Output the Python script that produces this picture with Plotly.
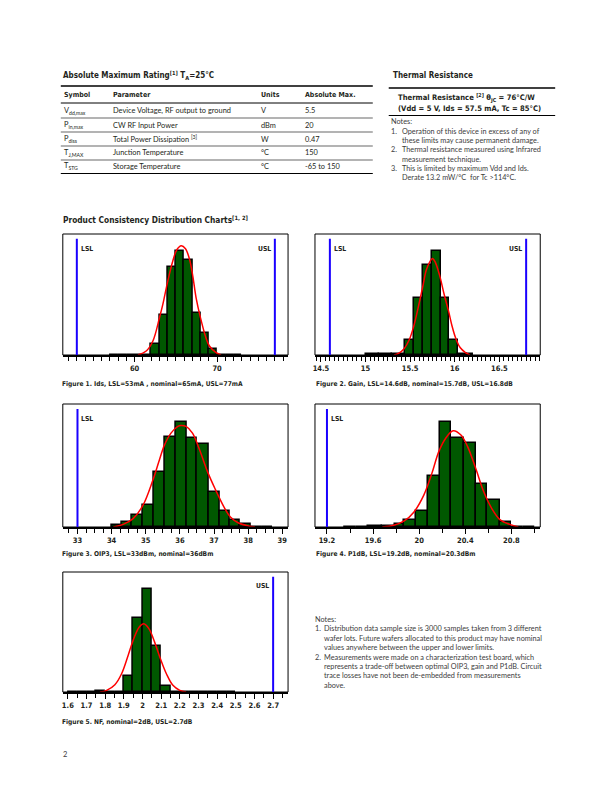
import plotly.graph_objects as go

W, H = 612, 792
COND = "DejaVu Sans Condensed, DejaVu Sans, sans-serif"
BODY = "Lato, Open Sans, sans-serif"
TXT = "#231f20"
NOTE = "#3c3c3c"

# ---------------- data ----------------
# Figure 1: Ids (mA)
ids_edges = [57, 58, 59, 62, 63, 64, 65, 66, 67, 68, 69, 70, 71, 72, 73]
ids_counts = [1.5, 1.5, 0, 34, 119, 262, 312, 285, 125, 65, 19, 1.5, 1.5, 1.5]
ids_fit_x = [60.4, 61.41, 62.22, 63.02, 63.43, 64.03, 64.64, 65.12, 65.65, 66.17, 66.65, 67.06, 67.46, 67.98, 68.67, 69.07, 69.88, 70.48]
ids_fit_y = [0, 12, 42, 112, 152, 222, 282, 315, 327, 318, 287, 235, 170, 112, 50, 27, 7, 0]
ids_ticks = [60, 70]
ids_lsl, ids_usl = 53, 77

# Figure 2: Gain (dB)
gain_edges = [15.0, 15.15, 15.3, 15.44, 15.54, 15.64, 15.74, 15.84, 15.94, 16.04, 16.14, 16.2]
gain_counts = [1.5, 1.5, 2, 45, 168, 267, 307, 168, 43, 1.5, 1.5]
gain_fit_x = [15.32, 15.37, 15.43, 15.49, 15.54, 15.59, 15.64, 15.68, 15.72, 15.75, 15.78, 15.83, 15.88, 15.93, 15.97, 16.01, 16.06, 16.12, 16.17]
gain_fit_y = [0, 5, 18, 45, 85, 140, 200, 250, 275, 285, 275, 235, 180, 130, 85, 50, 22, 7, 0]
gain_ticks = [14.5, 15, 15.5, 16, 16.5]
gain_lsl, gain_usl = 14.6, 16.8

# Figure 3: OIP3 (dBm)
oip3_edges = [34.0, 34.3, 34.6, 34.92, 35.23, 35.55, 35.87, 36.19, 36.51, 36.84, 37.16, 37.47, 37.77, 38.08, 38.4, 38.72]
oip3_counts = [7, 15, 35, 67, 165, 270, 313, 265, 247, 105, 48, 22, 8, 1.5, 1.5]
oip3_fit_x = [34.05, 34.34, 34.63, 34.92, 35.21, 35.4, 35.55, 35.74, 35.94, 36.03, 36.18, 36.37, 36.56, 36.83, 37.05, 37.29, 37.48, 37.72, 38.01, 38.2]
oip3_fit_y = [0, 8, 25, 65, 140, 200, 245, 280, 300, 303, 300, 280, 235, 160, 110, 60, 30, 12, 3, 0]
oip3_ticks = [33, 34, 35, 36, 37, 38, 39]
oip3_lsl = 33

# Figure 4: P1dB (dBm)
p1db_edges = [19.35, 19.45, 19.56, 19.68, 19.79, 19.87, 19.97, 20.08, 20.18, 20.28, 20.39, 20.49, 20.59, 20.70, 20.80, 20.9, 21.0]
p1db_counts = [1.5, 1.5, 3, 3, 10, 22, 48, 153, 313, 265, 250, 127, 82, 15, 1.5, 1.5]
p1db_fit_x = [19.68, 19.78, 19.87, 19.955, 20.04, 20.11, 20.17, 20.23, 20.295, 20.36, 20.42, 20.49, 20.56, 20.63, 20.70, 20.79, 20.86]
p1db_fit_y = [0, 5, 18, 45, 95, 160, 225, 265, 287, 275, 240, 175, 105, 55, 22, 7, 0]
p1db_ticks = [19.2, 19.6, 20, 20.4, 20.8]
p1db_lsl = 19.2

# Figure 5: NF (dB)
nf_edges = [1.6, 1.65, 1.7, 1.75, 1.8, 1.85, 1.9, 1.95, 2.0, 2.05, 2.1, 2.15, 2.2, 2.25, 2.3, 2.35, 2.4, 2.45, 2.5]
nf_counts = [1.5, 1.5, 1.5, 4, 1.5, 1.5, 48, 223, 310, 139, 18, 1.5, 1.5, 1.5, 1.5, 1.5, 1.5, 1.5]
nf_fit_x = [1.772, 1.808, 1.852, 1.888, 1.923, 1.953, 1.982, 2.007, 2.035, 2.065, 2.096, 2.128, 2.163, 2.20, 2.234]
nf_fit_y = [0, 5, 22, 55, 110, 160, 195, 205, 190, 150, 100, 55, 20, 5, 0]
nf_ticks = [1.6, 1.7, 1.8, 1.9, 2, 2.1, 2.2, 2.3, 2.4, 2.5, 2.6, 2.7]
nf_usl = 2.7

captions = [
    "Figure 1. Ids, LSL=53mA , nominal=65mA, USL=77mA",
    "Figure 2. Gain, LSL=14.6dB, nominal=15.7dB, USL=16.8dB",
    "Figure 3. OIP3, LSL=33dBm, nominal=36dBm",
    "Figure 4. P1dB, LSL=19.2dB, nominal=20.3dBm",
    "Figure 5. NF, nominal=2dB, USL=2.7dB",
]

# table data
tbl_header = ["Symbol", "Parameter", "Units", "Absolute Max."]
tbl_symbol = ["V<sub>dd,max</sub>", "P<sub>in,max</sub>", "P<sub>diss</sub>", "T<sub>J,MAX</sub>", "T<sub>STG</sub>"]
tbl_param = ["Device Voltage, RF output to ground", "CW RF Input Power", "Total Power Dissipation <sup>[3]</sup>",
             "Junction Temperature", "Storage Temperature"]
tbl_units = ["V", "dBm", "W", "°C", "°C"]
tbl_max = ["5.5", "20", "0.47", "150", "-65 to 150"]

# ---------------- figure ----------------
fig = go.Figure()

def ax_domain(x0, x1, y0, y1):
    return [x0 / W, x1 / W], [1 - y1 / H, 1 - y0 / H]

charts = [
    dict(edges=ids_edges, counts=ids_counts, fx=ids_fit_x, fy=ids_fit_y, ticks=ids_ticks,
         rng=[51.3, 78.6], minor=1, ymax=362, lsl=ids_lsl, usl=ids_usl, box=(61, 287, 234, 355), cap=(59, 384)),
    dict(edges=gain_edges, counts=gain_counts, fx=gain_fit_x, fy=gain_fit_y, ticks=gain_ticks,
         rng=[14.433, 16.958], minor=0.05, ymax=357, lsl=gain_lsl, usl=gain_usl, box=(314, 540, 234, 355), cap=(314, 384)),
    dict(edges=oip3_edges, counts=oip3_counts, fx=oip3_fit_x, fy=oip3_fit_y, ticks=oip3_ticks,
         rng=[32.57, 39.17], minor=0.25, ymax=367, lsl=oip3_lsl, usl=None, box=(61, 287, 404, 527), cap=(59, 554)),
    dict(edges=p1db_edges, counts=p1db_counts, fx=p1db_fit_x, fy=p1db_fit_y, ticks=p1db_ticks,
         rng=[19.096, 21.05], minor=0.2, ymax=367, lsl=p1db_lsl, usl=None, box=(314, 540, 404, 527), cap=(314, 554)),
    dict(edges=nf_edges, counts=nf_counts, fx=nf_fit_x, fy=nf_fit_y, ticks=nf_ticks,
         rng=[1.573, 2.78], minor=0.05, ymax=361, lsl=None, usl=nf_usl, box=(61, 287, 572, 692), cap=(59, 722)),
]

for i, c in enumerate(charts, start=1):
    suffix = "" if i == 1 else str(i)
    xa, ya = f"x{suffix}", f"y{suffix}"
    e = c["edges"]
    centers = [(a + b) / 2 for a, b in zip(e[:-1], e[1:])]
    widths = [b - a for a, b in zip(e[:-1], e[1:])]
    fig.add_trace(go.Bar(x=centers, y=c["counts"], width=widths, xaxis=xa, yaxis=ya,
                         marker=dict(color="#005800", line=dict(color="black", width=1.5)),
                         showlegend=False, hoverinfo="skip"))
    fig.add_trace(go.Scatter(x=c["fx"], y=c["fy"], mode="lines", xaxis=xa, yaxis=ya,
                             line=dict(color="#ff0000", width=1.5, shape="spline", smoothing=1.0),
                             showlegend=False, hoverinfo="skip"))
    dx, dy = ax_domain(*c["box"])
    fig.update_layout(**{
        f"xaxis{suffix}": dict(domain=dx, range=c["rng"], anchor=ya, showgrid=False, zeroline=False,
                               showline=True, linecolor="black", linewidth=2, mirror=False,
                               ticks="outside", tickvals=c["ticks"], ticklen=5, tickwidth=1.2, tickcolor="black",
                               tickfont=dict(family=COND, size=7.5, color=TXT, weight="bold"),
                               minor=dict(dtick=c["minor"], tick0=0, ticks="outside", ticklen=4,
                                          tickwidth=1, tickcolor="black", showgrid=False),
                               fixedrange=True),
        f"yaxis{suffix}": dict(domain=dy, range=[0, c["ymax"]], anchor=xa, showgrid=False, zeroline=False,
                               showline=False, showticklabels=False, ticks="", fixedrange=True),
    })
    # frame
    fig.add_shape(type="rect", xref=f"{xa} domain", yref=f"{ya} domain", x0=0, x1=1, y0=0, y1=1,
                  line=dict(color="black", width=1))
    for val, lab, side in [(c["lsl"], "LSL", 1), (c["usl"], "USL", -1)]:
        if val is None:
            continue
        fig.add_shape(type="line", xref=xa, yref=f"{ya} domain", x0=val, x1=val, y0=0, y1=0.96,
                      line=dict(color="#1a00ff", width=2))
        fig.add_annotation(x=val, y=0.88, xref=xa, yref=f"{ya} domain", text=f"<b>{lab}</b>",
                           showarrow=False, xanchor="left" if side > 0 else "right", yanchor="middle",
                           xshift=2 * side, font=dict(family=COND, size=6.8, color=TXT))
    fig.add_annotation(x=c["cap"][0] / W, y=1 - c["cap"][1] / H, xref="paper", yref="paper",
                       text=f"<b>{captions[i - 1]}</b>", showarrow=False, xanchor="left", yanchor="middle",
                       borderpad=0, font=dict(family=COND, size=6.6, color=TXT))


def txt(x, y, s, size=8, family=BODY, color=TXT, anchor="left"):
    fig.add_annotation(x=x / W, y=1 - y / H, xref="paper", yref="paper", text=s, showarrow=False,
                       xanchor=anchor, yanchor="middle", borderpad=0, font=dict(family=family, size=size, color=color))


def hline(x0, x1, y, w=0.75, color="black"):
    fig.add_shape(type="line", xref="paper", yref="paper", x0=x0 / W, x1=x1 / W, y0=1 - y / H, y1=1 - y / H,
                  line=dict(color=color, width=w))

# Absolute maximum rating table
txt(60, 75, "<b>Absolute Maximum Rating<sup>[1]</sup> T<sub>A</sub>=25°C</b>", size=8, family=COND)
hline(59, 372, 86, 1.5)
cols = [61, 110, 259, 303]
for cx, h in zip(cols, tbl_header):
    txt(cx, 95.5, f"<b>{h}</b>", size=7, family=COND)
hline(59, 372, 103, 1)
row_y = [111, 125, 139, 153, 166.5]
for k, ry in enumerate(row_y):
    txt(cols[0], ry, tbl_symbol[k], size=7.4)
    txt(cols[1], ry, tbl_param[k], size=7.4)
    txt(cols[2], ry, tbl_units[k], size=7.4)
    txt(cols[3], ry, tbl_max[k], size=7.4)
    hline(59, 372, ry + 7, 1 if k == len(row_y) - 1 else 0.6)

# Thermal resistance
txt(391, 75, "<b>Thermal Resistance</b>", size=8, family=COND)
hline(388, 555, 88, 1.5)
txt(396, 98, "<b>Thermal Resistance <sup>[2]</sup> θ<sub>JC</sub> = 76°C/W</b>", size=7.6, family=COND)
txt(396, 108.5, "<b>(Vdd = 5 V, Ids = 57.5 mA, Tc = 85°C)</b>", size=7.6, family=COND)
hline(388, 555, 115.5, 1)
txt(389, 121.5, "Notes:", size=7.3, color=NOTE)
top_notes = [
    (131, "1.", "Operation of this device in excess of any of"),
    (140.4, "", "these limits may cause permanent damage."),
    (149.8, "2.", "Thermal resistance measured using Infrared"),
    (159.2, "", "measurement technique."),
    (168.6, "3.", "This is limited by maximum Vdd and Ids."),
    (178, "", "Derate 13.2 mW/°C  for Tc >114°C."),
]
for ny, num, s in top_notes:
    if num:
        txt(389, ny, num, size=7.3, color=NOTE)
    txt(400, ny, s, size=7.3, color=NOTE)

txt(60, 220, "<b>Product Consistency Distribution Charts<sup>[1, 2]</sup></b>", size=8.3, family=COND)

# bottom notes
txt(313, 619, "Notes:", size=7.3, color=NOTE)
bot_notes = [
    (628.8, "1.", "Distribution data sample size is 3000 samples taken from 3 different"),
    (638.2, "", "wafer lots. Future wafers allocated to this product may have nominal"),
    (647.6, "", "values anywhere between the upper and lower limits."),
    (657, "2.", "Measurements were made on a characterization test board, which"),
    (666.4, "", "represents a trade-off between optimal OIP3, gain and P1dB. Circuit"),
    (675.8, "", "trace losses have not been de-embedded from measurements"),
    (685.2, "", "above."),
]
for ny, num, s in bot_notes:
    if num:
        txt(313, ny, num, size=7.3, color=NOTE)
    txt(322.5, ny, s, size=7.3, color=NOTE)

txt(60, 754, "2", size=7.5, color=NOTE)

fig.update_layout(width=W, height=H, margin=dict(l=0, r=0, t=0, b=0), paper_bgcolor="white",
                  plot_bgcolor="white", bargap=0, barmode="overlay", showlegend=False)

fig.write_html("out.html", config={"displayModeBar": False},
               post_script="document.body.style.margin='0px';")
